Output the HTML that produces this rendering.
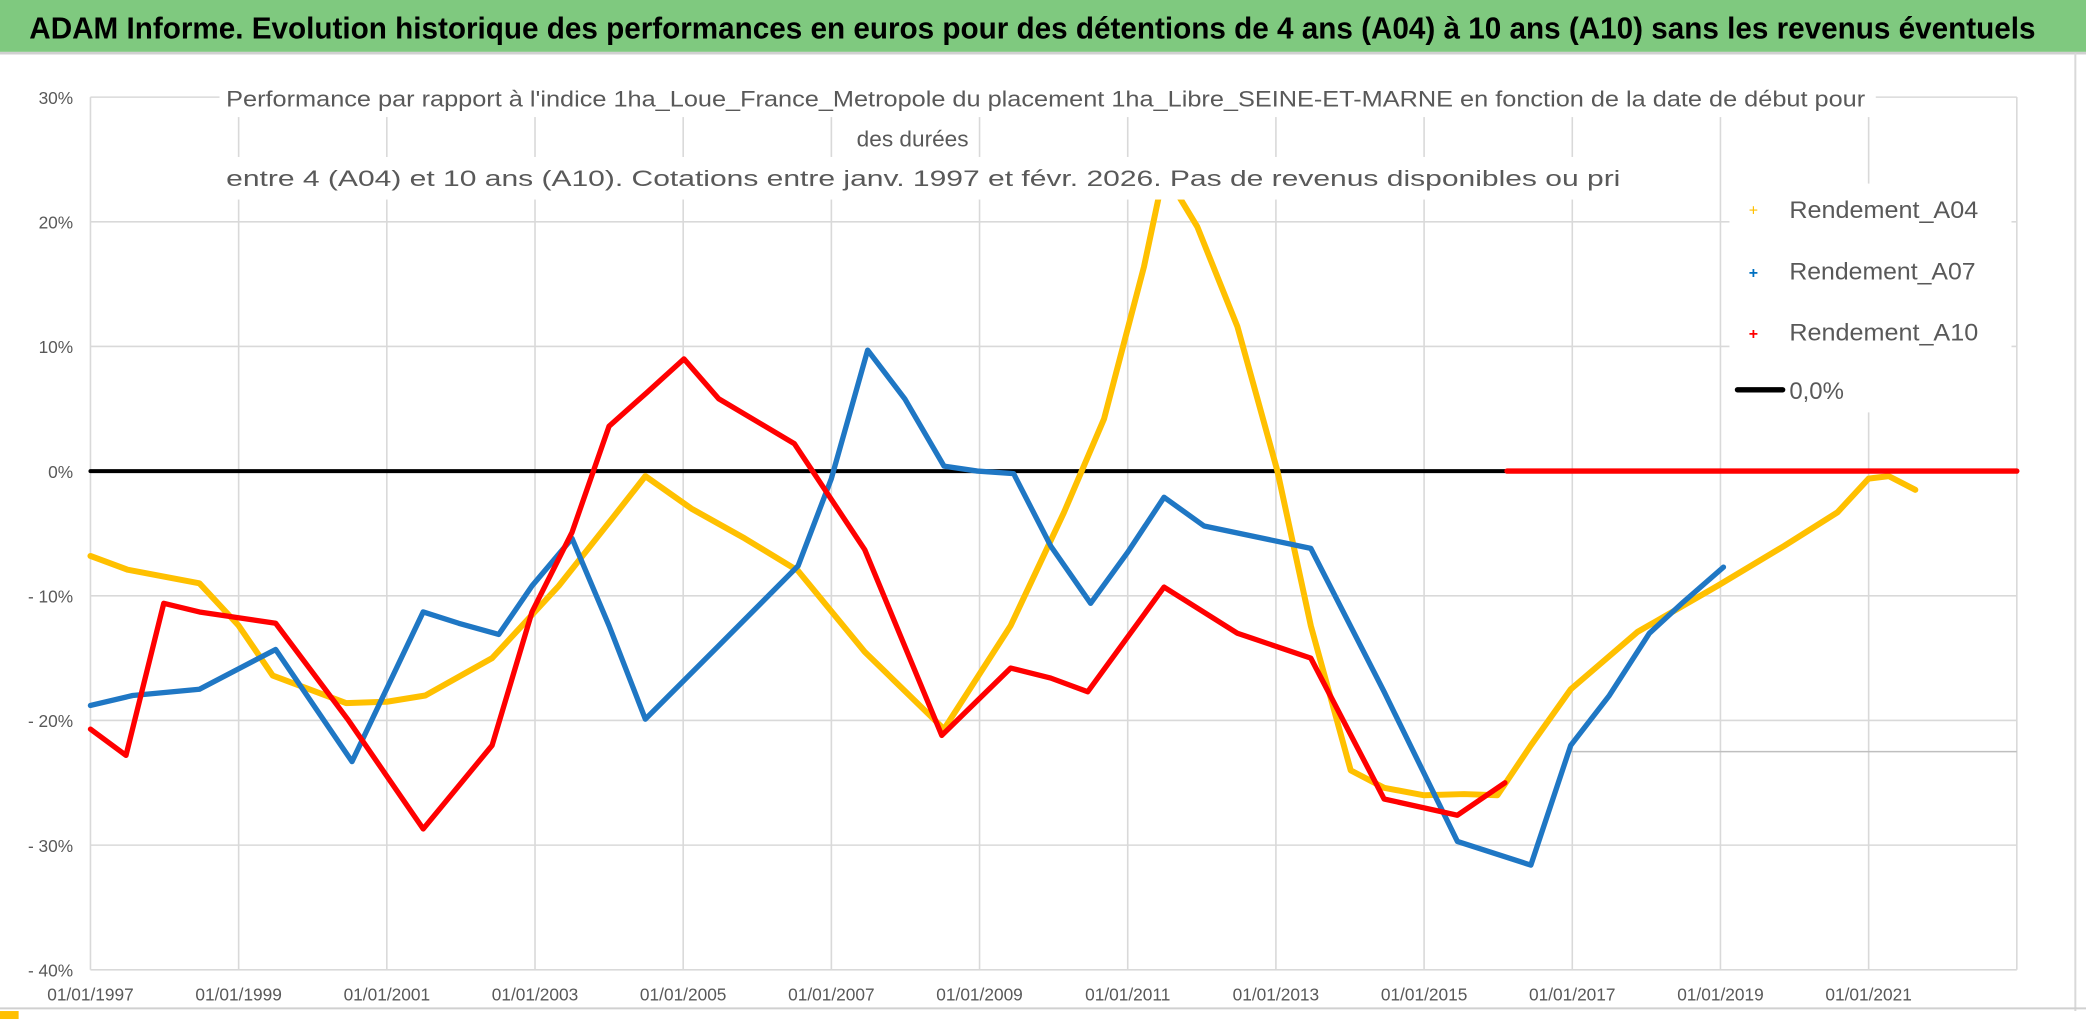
<!DOCTYPE html>
<html><head><meta charset="utf-8"><style>
html,body{margin:0;padding:0;background:#fff;}
svg{display:block;}
text{font-family:"Liberation Sans",sans-serif;}
</style></head><body>
<svg id="chart" width="2086" height="1031" viewBox="0 0 1568 775" preserveAspectRatio="none" xmlns="http://www.w3.org/2000/svg">
<rect x="0" y="0" width="1568" height="775" fill="#fff"/>
<rect x="0" y="0" width="1568" height="39" fill="#7fc97f"/>
<line x1="0" y1="40" x2="1568" y2="40" stroke="#d0d0d0" stroke-width="2"/>
<text x="22" y="29" font-size="23" font-weight="bold" fill="#000" textLength="1508" lengthAdjust="spacingAndGlyphs">ADAM Informe. Evolution historique des performances en euros pour des détentions de 4 ans (A04) à 10 ans (A10) sans les revenus éventuels</text>
<line x1="1560" y1="40" x2="1560" y2="760" stroke="#d9d9d9" stroke-width="1.5"/>
<line x1="0" y1="758" x2="1568" y2="758" stroke="#d0d0d0" stroke-width="1.5"/>
<rect x="0" y="760" width="14" height="6" fill="#ffc000"/>
<g id="grid"></g>
<g id="series"></g>
<g id="overlay">
<rect x="165" y="60" width="1245" height="28" fill="#fff"/>
<rect x="640" y="90" width="95" height="26" fill="#fff"/>
<rect x="160" y="118" width="1065" height="32" fill="#fff"/>
<text x="170" y="80" font-size="17" fill="#595959" textLength="1232" lengthAdjust="spacingAndGlyphs">Performance par rapport à l'indice 1ha_Loue_France_Metropole  du placement 1ha_Libre_SEINE-ET-MARNE en fonction de la date de début pour</text>
<text x="686" y="110" font-size="17" fill="#595959" text-anchor="middle">des durées</text>
<text x="170" y="140" font-size="17" fill="#595959" textLength="1048" lengthAdjust="spacingAndGlyphs">entre 4 (A04) et 10 ans (A10). Cotations entre janv. 1997 et févr. 2026. Pas de revenus disponibles ou pri</text>
<rect x="1300" y="138" width="212" height="172" fill="#fff"/>
<g><text x="1318" y="162" font-size="12" fill="#ffc000" text-anchor="middle">+</text><text x="1345" y="164" font-size="18" fill="#595959" textLength="142" lengthAdjust="spacingAndGlyphs">Rendement_A04</text></g>
<g><text x="1318" y="209" font-size="12" fill="#0070c0" text-anchor="middle" font-weight="bold">+</text><text x="1345" y="210" font-size="18" fill="#595959" textLength="140" lengthAdjust="spacingAndGlyphs">Rendement_A07</text></g>
<g><text x="1318" y="255" font-size="12" fill="#ff0000" text-anchor="middle" font-weight="bold">+</text><text x="1345" y="256" font-size="18" fill="#595959" textLength="142" lengthAdjust="spacingAndGlyphs">Rendement_A10</text></g>
<g><line x1="1306" y1="293" x2="1340" y2="293" stroke="#000" stroke-width="4" stroke-linecap="round"/><text x="1345" y="300" font-size="18" fill="#595959">0,0%</text></g>
</g>
</svg>
<script>
const yTicks = [30,20,10,0,-10,-20,-30,-40];
const yTickLabels = ["30%","20%","10%","0%","- 10%","- 20%","- 30%","- 40%"];
const xTickYears = [1997,1999,2001,2003,2005,2007,2009,2011,2013,2015,2017,2019,2021,2023];
const xTickLabels = ["01/01/1997","01/01/1999","01/01/2001","01/01/2003","01/01/2005","01/01/2007","01/01/2009","01/01/2011","01/01/2013","01/01/2015","01/01/2017","01/01/2019","01/01/2021",""];
const a04Years = [1997.0,1997.5,1998.47,1999.0,1999.46,2000.45,2001.0,2001.52,2002.42,2003.32,2004.04,2004.49,2005.11,2005.83,2006.55,2007.45,2008.52,2009.42,2010.14,2010.68,2011.22,2011.49,2011.94,2012.48,2012.75,2013.02,2013.47,2014.01,2014.46,2015.0,2015.54,2015.99,2016.44,2016.98,2017.88,2018.96,2019.86,2020.58,2021.0,2021.27,2021.63];
const a04Values = [-6.8,-7.9,-9.0,-12.4,-16.4,-18.6,-18.5,-18.0,-15.0,-9.2,-3.8,-0.4,-3.0,-5.4,-8.0,-14.5,-20.7,-12.4,-3.3,4.2,16.4,24,19.6,11.6,5.8,0,-12.4,-24.0,-25.4,-26.0,-25.9,-26.0,-22.0,-17.5,-12.9,-9.2,-6.0,-3.3,-0.6,-0.4,-1.5];
const a07Years = [1997.0,1997.57,1998.47,1999.5,2000.53,2001.49,2001.97,2002.51,2002.96,2003.5,2004.0,2004.49,2005.48,2006.55,2007.0,2007.49,2007.99,2008.52,2008.97,2009.46,2009.96,2010.5,2011.0,2011.49,2012.03,2013.47,2014.46,2015.45,2016.44,2016.98,2017.5,2018.04,2018.5,2019.04];
const a07Values = [-18.8,-18.0,-17.5,-14.3,-23.3,-11.3,-12.2,-13.1,-9.2,-5.4,-12.4,-19.9,-14.0,-7.6,-0.6,9.7,5.8,0.4,0,-0.2,-6.0,-10.6,-6.5,-2.1,-4.4,-6.2,-17.7,-29.7,-31.6,-22.0,-18.0,-13.0,-10.5,-7.7,-8.8];
const a10Years = [1997.0,1997.48,1997.99,1998.47,1999.5,2000.47,2001.49,2002.42,2002.96,2003.5,2004.0,2004.51,2005.01,2005.48,2006.5,2007.45,2008.49,2009.42,2009.96,2010.46,2011.49,2012.48,2013.47,2014.46,2015.45,2016.09];
const a10Values = [-20.7,-22.8,-10.6,-11.3,-12.2,-19.9,-28.7,-22.0,-11.3,-4.9,3.6,6.3,9.0,5.8,2.2,-6.3,-21.2,-15.8,-16.6,-17.7,-9.3,-13.0,-15.0,-26.3,-27.6,-25.0];
const a10ZeroYears = [2016.12,2023.0];
const a10ZeroValues = [0,0];
const zeroYears = [1997,2023];
const zeroValues = [0,0];

const X0=68, X1=1516, Y0=73, Y1=729;
function xs(yr){return X0+(yr-1997)/(2023-1997)*(X1-X0);}
function ys(v){return Y0+(30-v)/70*(Y1-Y0);}
const NS="http://www.w3.org/2000/svg";
const grid=document.getElementById('grid'), ser=document.getElementById('series');
function mk(tag,attrs,parent){const e=document.createElementNS(NS,tag);for(const k in attrs)e.setAttribute(k,attrs[k]);parent.appendChild(e);return e;}
yTicks.forEach((t,i)=>{
  const l=mk('line',{x1:X0,x2:X1,y1:ys(t),y2:ys(t),stroke:'#d9d9d9','stroke-width':1.2},grid);
  
  
  const tx=mk('text',{x:55,y:ys(t)+5,'font-size':13,fill:'#595959','text-anchor':'end'},grid);
  tx.textContent=yTickLabels[i];
  
  
});
xTickYears.forEach((yr,i)=>{
  const l=mk('line',{x1:xs(yr),x2:xs(yr),y1:Y0,y2:Y1,stroke:'#d9d9d9','stroke-width':1.2},grid);
  
  
  const tx=mk('text',{x:xs(yr),y:752,'font-size':13,fill:'#595959','text-anchor':'middle'},grid);
  tx.textContent=xTickLabels[i];
  
  
});
const ex=mk('line',{x1:xs(2016.98),x2:X1,y1:ys(-22.5),y2:ys(-22.5),stroke:'#bfbfbf','stroke-width':1.2},grid);


function series(years,vals,color,name,w){
  const pts=years.map((y,i)=>xs(y).toFixed(1)+','+ys(vals[i]).toFixed(1)).join(' ');
  const p=mk('polyline',{points:pts,fill:'none',stroke:color,'stroke-width':w,'stroke-linejoin':'round','stroke-linecap':'round'},ser);
  
  
}
series(zeroYears,zeroValues,'#000','zero-line',3);
series(a04Years,a04Values,'#ffc000','series-rendement-a04',4.5);
series(a07Years,a07Values,'#1f77c4','series-rendement-a07',4);
series(a10Years,a10Values,'#ff0000','series-rendement-a10',4);
series(a10ZeroYears,a10ZeroValues,'#ff0000','series-rendement-a10-zero',4);
</script>
</body></html>
